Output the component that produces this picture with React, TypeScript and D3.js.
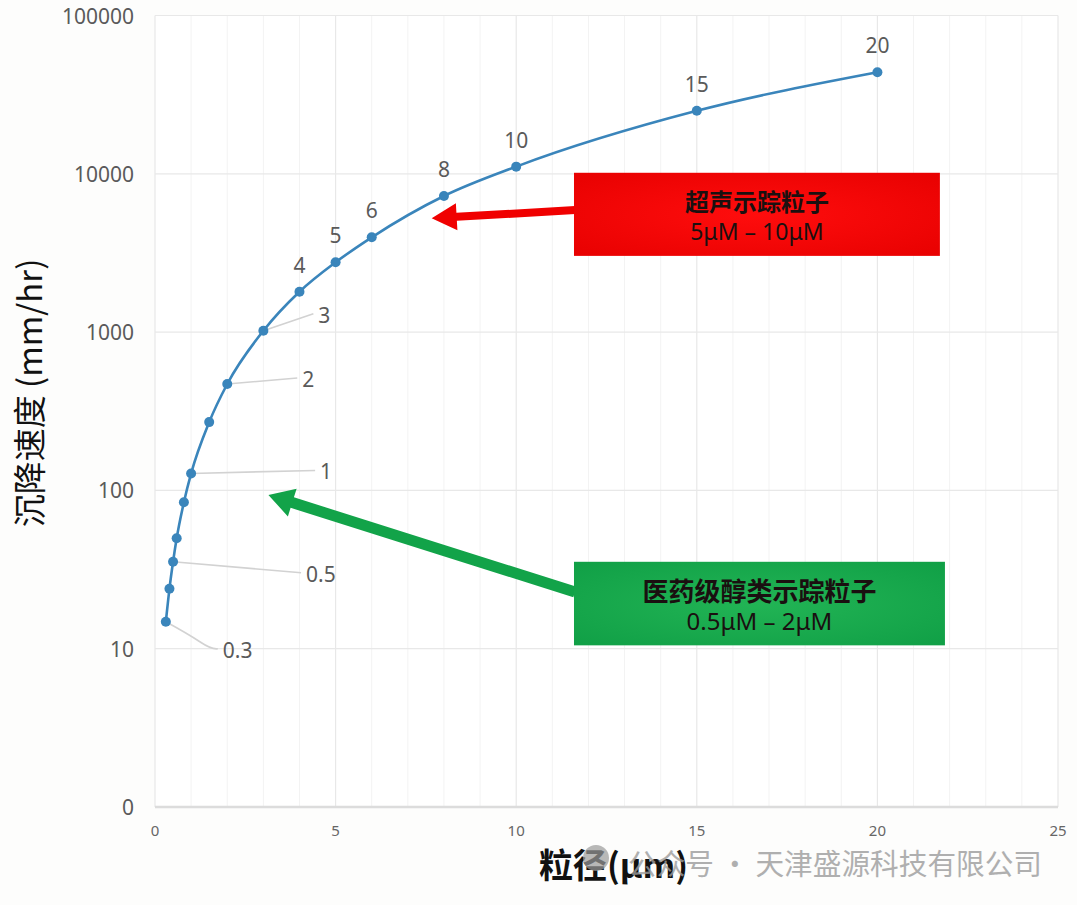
import * as d3 from 'd3';
import { useEffect, useRef } from 'react';

// particle size (μm) vs settling speed (mm/hr)
const sizes = [0.3, 0.4, 0.5, 0.6, 0.8, 1, 1.5, 2, 3, 4, 5, 6, 8, 10, 15, 20];
const speeds = [14.8, 23.9, 35.4, 49.8, 84.1, 128, 270, 470, 1020, 1800, 2760, 3970, 7240, 11100, 25000, 43800];

const xTicks = [0, 5, 10, 15, 20, 25];
const yTicks = [1, 10, 100, 1000, 10000, 100000];
const yTickLabels = ['0', '10', '100', '1000', '10000', '100000'];

// labels drawn above the point
const topLabels = [4, 5, 6, 8, 10, 15, 20];
// labels pulled aside with a leader line
const leaderLabels = [0.3, 0.5, 1, 2, 3];

// callout boxes (data units): x range, y range, arrow tail y, arrow tip
const calloutTitles = ['超声示踪粒子', '医药级醇类示踪粒子'];
const calloutRanges = ['5μM – 10μM', '0.5μM – 2μM'];
const calloutX = [[11.6, 21.73], [11.6, 21.87]];
const calloutY = [[10150, 3030], [35.4, 10.5]];
const calloutTailY = [5900, 22.8];
const calloutTip = [[7.66, 5240], [3.14, 93.5]];

const FONT = "'Noto Sans', 'Noto Sans CJK SC', sans-serif";
const CJK = "'Noto Sans CJK SC', 'Noto Sans', sans-serif";

export default function App() {
  const svgRef = useRef<SVGSVGElement | null>(null);

  useEffect(() => {
    if (!svgRef.current) return;
    const W = 1077, H = 905;
    const svg = d3.select(svgRef.current);
    svg.selectAll('*').remove();
    svg.attr('width', W).attr('height', H).attr('font-family', FONT);

    const x = d3.scaleLinear().domain([0, 25]).range([155, 1058]);
    const y = d3.scaleLog().domain([1, 100000]).range([807, 15.5]);

    svg.append('rect').attr('width', W).attr('height', H).attr('fill', '#fdfdfc');

    const defs = svg.append('defs');
    const grad = (id: string, c0: string, c1: string) => {
      const g = defs.append('radialGradient').attr('id', id).attr('cx', '50%').attr('cy', '50%').attr('r', '75%');
      g.append('stop').attr('offset', '0%').attr('stop-color', c0);
      g.append('stop').attr('offset', '100%').attr('stop-color', c1);
    };
    grad('redFill', '#ff0d0d', '#e60000');
    grad('greenFill', '#22b455', '#0f9e45');

    // plot area
    svg.append('rect')
      .attr('x', x(0)).attr('y', y(100000))
      .attr('width', x(25) - x(0)).attr('height', y(1) - y(100000))
      .attr('fill', '#ffffff');

    // minor vertical grid
    svg.append('g').selectAll('line')
      .data(d3.range(1, 25).filter(v => v % 5 !== 0))
      .join('line')
      .attr('x1', d => x(d)).attr('x2', d => x(d))
      .attr('y1', y(100000)).attr('y2', y(1))
      .attr('stroke', '#f3f3f3').attr('stroke-width', 1);

    // major grid
    svg.append('g').selectAll('line')
      .data(xTicks)
      .join('line')
      .attr('x1', d => x(d)).attr('x2', d => x(d))
      .attr('y1', y(100000)).attr('y2', y(1))
      .attr('stroke', '#e8e8e8').attr('stroke-width', 1.2);
    svg.append('g').selectAll('line')
      .data(yTicks)
      .join('line')
      .attr('x1', x(0)).attr('x2', x(25))
      .attr('y1', d => y(d)).attr('y2', d => y(d))
      .attr('stroke', '#e8e8e8').attr('stroke-width', 1.2);
    svg.append('line')
      .attr('x1', x(0)).attr('x2', x(25)).attr('y1', y(1)).attr('y2', y(1))
      .attr('stroke', '#dcdcdc').attr('stroke-width', 2.5);

    // tick labels
    svg.append('g').selectAll('text')
      .data(yTicks)
      .join('text')
      .attr('x', 134).attr('y', d => y(d))
      .attr('text-anchor', 'end').attr('dominant-baseline', 'central')
      .attr('font-size', 21).attr('fill', '#5a5a5a')
      .text((d, i) => yTickLabels[i]);
    svg.append('g').selectAll('text')
      .data(xTicks)
      .join('text')
      .attr('x', d => x(d)).attr('y', 830)
      .attr('text-anchor', 'middle').attr('dominant-baseline', 'central')
      .attr('font-size', 15).attr('fill', '#666')
      .text(d => d);

    const pts = sizes.map((s, i) => [x(s), y(speeds[i])] as [number, number]);

    // leader lines + labels
    const leaderOff: Record<string, [number, number]> = {
      '0.3': [52, 27], '0.5': [128, 11], '1': [124, -3], '2': [70, -6], '3': [50, -17],
    };
    leaderLabels.forEach(v => {
      const i = sizes.indexOf(v);
      const [px, py] = pts[i];
      const [dx, dy] = leaderOff[String(v)];
      const ex = px + dx, ey = py + dy;
      const path = v === 0.3
        ? `M${px},${py}Q${px + 22},${py + 12} ${px + 34},${py + 20}T${ex},${ey}`
        : `M${px},${py}L${ex},${ey}`;
      svg.append('path').attr('d', path).attr('fill', 'none')
        .attr('stroke', '#d2d2d2').attr('stroke-width', 1.6);
      svg.append('text')
        .attr('x', ex + 5).attr('y', ey + 1)
        .attr('dominant-baseline', 'central')
        .attr('font-size', 21).attr('fill', '#5a5a5a')
        .text(v);
    });

    // series line
    const line = d3.line<[number, number]>().curve(d3.curveMonotoneX);
    svg.append('path').attr('d', line(pts)!)
      .attr('fill', 'none').attr('stroke', '#3a85bb').attr('stroke-width', 2.6);
    svg.append('g').selectAll('circle')
      .data(pts)
      .join('circle')
      .attr('cx', d => d[0]).attr('cy', d => d[1]).attr('r', 5)
      .attr('fill', '#3a85bb');

    svg.append('g').selectAll('text')
      .data(topLabels)
      .join('text')
      .attr('x', d => x(d)).attr('y', d => y(speeds[sizes.indexOf(d)]) - 27)
      .attr('text-anchor', 'middle').attr('dominant-baseline', 'central')
      .attr('font-size', 21).attr('fill', '#5a5a5a')
      .text(d => d);

    // callouts
    const fills = ['url(#redFill)', 'url(#greenFill)'];
    const arrowColors = ['#f00000', '#12a349'];
    const shaftW = [8, 11];
    const headW = [27, 29];
    const headL = [25, 25];
    const titleSize = [24, 26];
    const rangeSize = [23, 24];
    calloutTitles.forEach((title, k) => {
      const bx0 = x(calloutX[k][0]), bx1 = x(calloutX[k][1]);
      const by0 = y(calloutY[k][0]), by1 = y(calloutY[k][1]);
      const tx = bx0 + 1, ty = y(calloutTailY[k]);
      const hx = x(calloutTip[k][0]), hy = y(calloutTip[k][1]);
      const len = Math.hypot(hx - tx, hy - ty);
      const ux = (hx - tx) / len, uy = (hy - ty) / len;
      const nx = -uy, ny = ux;
      const bx = hx - ux * headL[k], by = hy - uy * headL[k];
      const w = shaftW[k] / 2, hw = headW[k] / 2;
      const poly = [
        [tx + nx * w, ty + ny * w], [bx + nx * w, by + ny * w], [bx + nx * hw, by + ny * hw],
        [hx, hy],
        [bx - nx * hw, by - ny * hw], [bx - nx * w, by - ny * w], [tx - nx * w, ty - ny * w],
      ];
      svg.append('polygon').attr('points', poly.map(p => p.join(',')).join(' '))
        .attr('fill', arrowColors[k]);

      svg.append('rect')
        .attr('x', bx0).attr('y', by0).attr('width', bx1 - bx0).attr('height', by1 - by0)
        .attr('fill', fills[k]);
      const cx = (bx0 + bx1) / 2, cy = (by0 + by1) / 2;
      svg.append('text')
        .attr('x', cx).attr('y', cy - 14)
        .attr('text-anchor', 'middle').attr('dominant-baseline', 'central')
        .attr('font-family', CJK).attr('font-weight', 700)
        .attr('font-size', titleSize[k]).attr('fill', '#1a1010')
        .text(title);
      svg.append('text')
        .attr('x', cx).attr('y', cy + 17)
        .attr('text-anchor', 'middle').attr('dominant-baseline', 'central')
        .attr('font-size', rangeSize[k]).attr('fill', '#1a1010')
        .text(calloutRanges[k]);
    });

    // axis titles
    svg.append('text')
      .attr('transform', 'translate(28,393) rotate(-90)')
      .attr('text-anchor', 'middle').attr('dominant-baseline', 'central')
      .attr('font-family', CJK).attr('font-size', 33).attr('fill', '#111')
      .text('沉降速度 (mm/hr)');
    svg.append('text')
      .attr('x', 539).attr('y', 863)
      .attr('dominant-baseline', 'central')
      .attr('font-family', CJK).attr('font-weight', 700)
      .attr('font-size', 34).attr('fill', '#111')
      .text('粒径(μm)');

    // watermark
    svg.append('circle').attr('cx', 596).attr('cy', 858).attr('r', 13)
      .attr('fill', '#9a9a9a').attr('opacity', 0.7);
    svg.append('text')
      .attr('x', 628).attr('y', 862)
      .attr('dominant-baseline', 'central')
      .attr('font-family', CJK).attr('font-size', 29)
      .attr('fill', '#9c9c9c').attr('opacity', 0.8)
      .attr('textLength', 414).attr('lengthAdjust', 'spacingAndGlyphs')
      .text('公众号 · 天津盛源科技有限公司');
  }, []);

  return (
    <div style={{ position: 'absolute', left: 0, top: 0 }}>
      <svg ref={svgRef} style={{ display: 'block' }} />
    </div>
  );
}
